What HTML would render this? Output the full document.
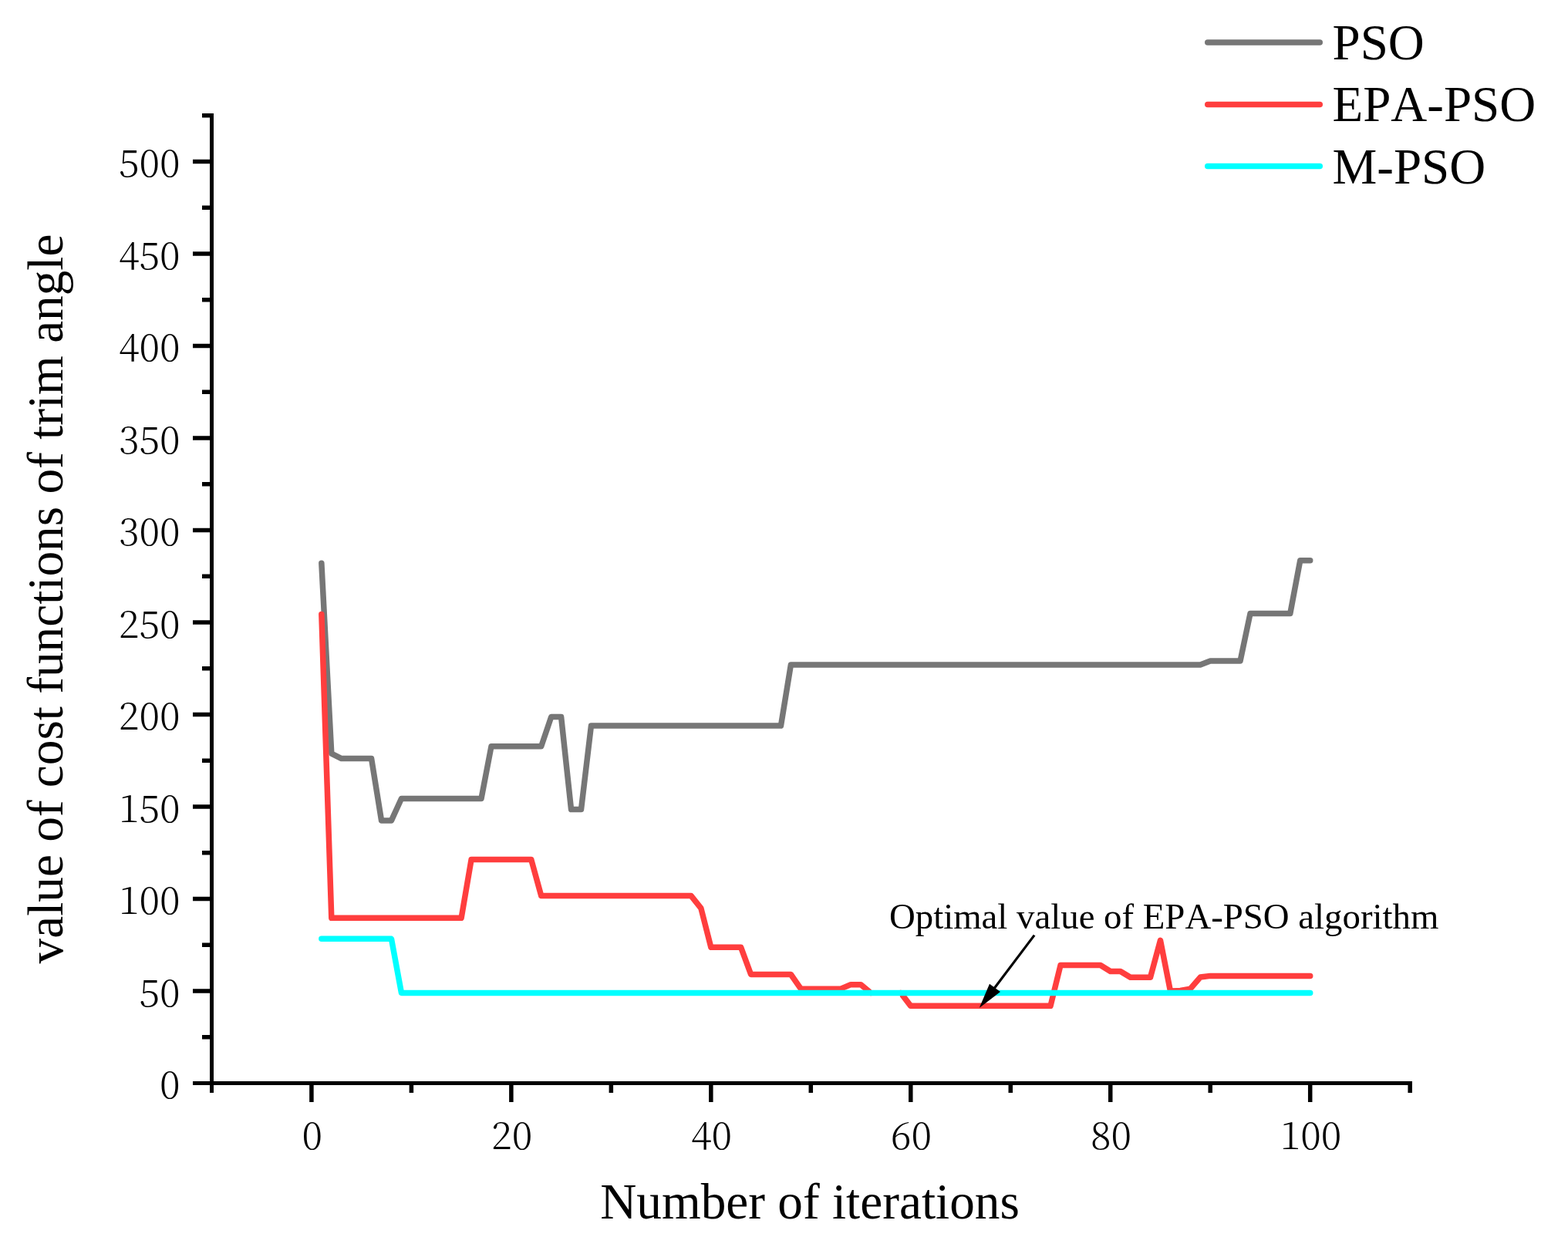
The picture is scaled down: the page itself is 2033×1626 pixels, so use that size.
<!DOCTYPE html>
<html lang="en"><head><meta charset="utf-8"><title>Convergence curves</title>
<style>
html,body{margin:0;padding:0;background:#fff;}
body{width:2033px;height:1626px;overflow:hidden;}
svg{display:block;}
text{fill:#000;font-kerning:none;}
.tk{font-family:"Noto Serif CJK SC", "Liberation Serif", serif;font-size:49.0px;font-weight:300;}
.lb{font-family:"Liberation Serif",serif;}
</style></head><body>
<svg width="2033" height="1626" viewBox="0 0 2033 1626">
<rect x="0" y="0" width="2033" height="1626" fill="#ffffff"/>
<polyline points="416.85,730.28 429.80,977.17 442.74,983.62 481.59,983.62 494.54,1063.92 507.48,1063.92 520.43,1035.48 624.02,1035.48 636.96,967.85 701.70,967.85 714.65,929.61 727.60,929.61 740.55,1049.59 753.50,1049.59 766.44,941.08 1012.46,941.08 1025.40,861.97 1556.27,861.97 1569.22,856.95 1608.06,856.95 1621.01,795.53 1672.80,795.53 1685.75,726.70 1698.70,726.70" fill="none" stroke="#767676" stroke-width="7.5" stroke-linejoin="round" stroke-linecap="round"/>
<clipPath id="rc"><path clip-rule="evenodd" d="M0 0H2033V1626H0Z M1130.0 1281H1166.8V1294H1130.0Z"/></clipPath>
<g clip-path="url(#rc)"><polyline points="416.85,796.48 429.80,1190.36 598.12,1190.36 611.07,1114.59 688.76,1114.59 701.70,1161.44 895.92,1161.44 908.87,1177.69 921.82,1228.36 960.66,1228.36 973.61,1263.49 1025.40,1263.49 1038.35,1282.13 1090.14,1282.13 1103.09,1276.63 1116.04,1276.63 1128.99,1287.39 1167.83,1287.39 1180.78,1304.36 1362.05,1304.36 1375.00,1251.54 1426.79,1251.54 1439.74,1259.43 1452.69,1259.43 1465.64,1267.31 1491.53,1267.31 1504.48,1219.28 1517.43,1285.00 1530.38,1284.52 1543.32,1282.13 1556.27,1267.08 1569.22,1265.40 1698.70,1265.40" fill="none" stroke="#ff3e3e" stroke-width="7.5" stroke-linejoin="round" stroke-linecap="round"/></g>
<polyline points="416.85,1217.36 507.48,1217.36 520.43,1287.39 1698.70,1287.39" fill="none" stroke="#00ffff" stroke-width="7.5" stroke-linejoin="round" stroke-linecap="round"/>
<g fill="#000" shape-rendering="crispEdges">
<rect x="272" y="147" width="5" height="1270"/>
<rect x="250" y="1402" width="1581" height="5"/>
</g>
<path d="M250 1285.00 H274 M250 1165.50 H274 M250 1046.00 H274 M250 926.50 H274 M250 807.00 H274 M250 687.50 H274 M250 568.00 H274 M250 448.50 H274 M250 329.00 H274 M250 209.50 H274 M262 1344.75 H274 M262 1225.25 H274 M262 1105.75 H274 M262 986.25 H274 M262 866.75 H274 M262 747.25 H274 M262 627.75 H274 M262 508.25 H274 M262 388.75 H274 M262 269.25 H274 M262 149.75 H274" fill="none" stroke="#000" stroke-width="5.5"/>
<path d="M403.90 1404 V1429 M662.86 1404 V1429 M921.82 1404 V1429 M1180.78 1404 V1429 M1439.74 1404 V1429 M1698.70 1404 V1429 M533.38 1404 V1417 M792.34 1404 V1417 M1051.30 1404 V1417 M1310.26 1404 V1417 M1569.22 1404 V1417 M1828.18 1404 V1417" fill="none" stroke="#000" stroke-width="5.5"/>
<g class="tk" text-anchor="end">
<text x="233.5" y="1424.30">0</text>
<text x="233.5" y="1304.80">50</text>
<text x="233.5" y="1185.30">100</text>
<text x="233.5" y="1065.80">150</text>
<text x="233.5" y="946.30">200</text>
<text x="233.5" y="826.80">250</text>
<text x="233.5" y="707.30">300</text>
<text x="233.5" y="587.80">350</text>
<text x="233.5" y="468.30">400</text>
<text x="233.5" y="348.80">450</text>
<text x="233.5" y="229.30">500</text>
</g><g class="tk" text-anchor="middle">
<text x="404.70" y="1490.4">0</text>
<text x="663.66" y="1490.4">20</text>
<text x="922.62" y="1490.4">40</text>
<text x="1181.58" y="1490.4">60</text>
<text x="1440.54" y="1490.4">80</text>
<text x="1699.50" y="1490.4">100</text>
</g>
<text class="lb" x="1050" y="1580.3" font-size="65.25" text-anchor="middle">Number of iterations</text>
<text class="lb" transform="translate(81.3 776.5) rotate(-90)" font-size="65.25" text-anchor="middle">value of cost functions of trim angle</text>
<line x1="1565.75" y1="55.00" x2="1711.25" y2="55.00" stroke="#767676" stroke-width="7.5" stroke-linecap="round"/>
<text class="lb" x="1727.5" y="76.80" font-size="65">PSO</text>
<line x1="1565.75" y1="135.50" x2="1711.25" y2="135.50" stroke="#ff3e3e" stroke-width="7.5" stroke-linecap="round"/>
<text class="lb" x="1727.5" y="157.25" font-size="65">EPA-PSO</text>
<line x1="1565.75" y1="215.50" x2="1711.25" y2="215.50" stroke="#00ffff" stroke-width="7.5" stroke-linecap="round"/>
<text class="lb" x="1727.5" y="237.70" font-size="65">M-PSO</text>
<text class="lb" x="1153" y="1203.9" font-size="46.8">Optimal value of EPA-PSO algorithm</text>
<line x1="1341.1" y1="1212.6" x2="1288" y2="1283" stroke="#000" stroke-width="3.2" stroke-linecap="butt"/>
<polygon points="1269.8,1306.8 1283,1275.8 1297,1286" fill="#000"/>
</svg></body></html>
